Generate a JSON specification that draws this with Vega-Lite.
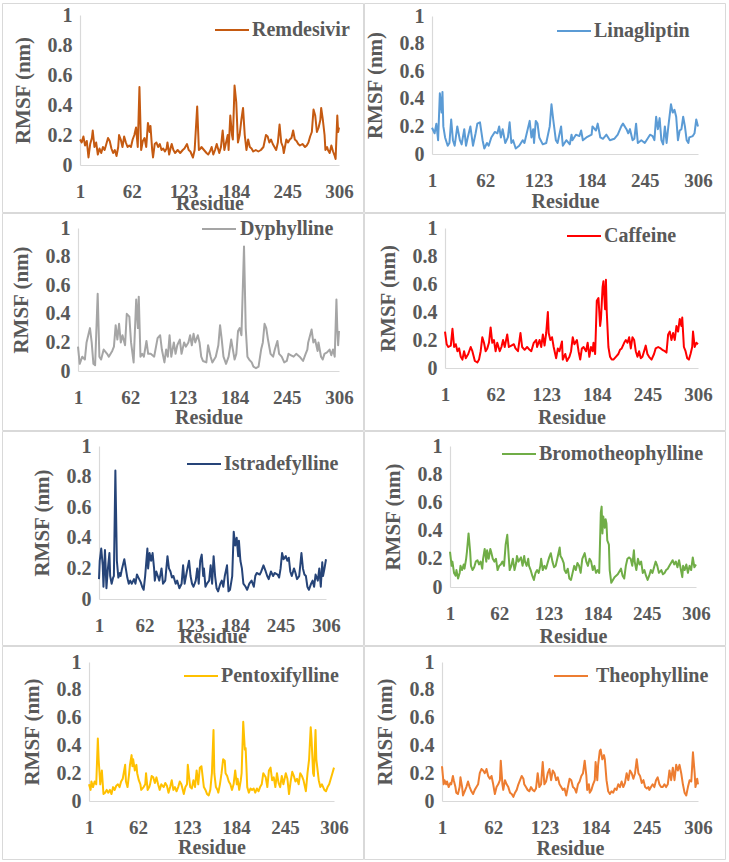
{
"$schema":"https://vega.github.io/schema/vega-lite/v6.json",
"background":"white",
"padding":{"left":1,"top":2,"right":0,"bottom":0},
"autosize":{"type":"pad"},
"bounds":"flush",
"spacing":1,
"columns":2,
"config":{
"view":{"stroke":"#d9d9d9","strokeWidth":1},
"axis":{"grid":false,"ticks":false,"tickSize":0,"domainColor":"#d9d9d9","domainWidth":1.2,"labelFont":"Liberation Serif","labelFontWeight":"bold","labelColor":"#595959","titleFont":"Liberation Serif","titleFontWeight":"bold","titleColor":"#595959","labelFlush":false,"labelOverlap":false,"labelBound":false},
"axisX":{"labelPadding":17,"titleBaseline":"middle","labelFontSize":19,"titleFontSize":20},
"axisY":{"labelPadding":8,"titleBaseline":"middle","titleAlign":"center","titleAngle":-90,"labelFontSize":20,"titleFontSize":21},
"legend":{"orient":"none","title":null,"symbolType":"stroke","symbolSize":1156,"symbolStrokeWidth":2.5,"labelFont":"Liberation Serif","labelFontWeight":"bold","labelFontSize":20,"labelColor":"#595959","labelOffset":2,"labelLimit":0,"padding":0},
"line":{"strokeWidth":2,"strokeJoin":"round"}
},
"resolve":{"scale":{"x":"independent","y":"independent","color":"independent"},"legend":{"color":"independent"}},
"datasets":{
"rem":[{"x":1,"y":0.17},{"x":3,"y":0.15},{"x":5,"y":0.19},{"x":7,"y":0.13},{"x":9,"y":0.16},{"x":11,"y":0.05},{"x":13,"y":0.14},{"x":15,"y":0.18},{"x":16,"y":0.23},{"x":18,"y":0.12},{"x":20,"y":0.15},{"x":22,"y":0.07},{"x":24,"y":0.11},{"x":26,"y":0.08},{"x":28,"y":0.12},{"x":30,"y":0.1},{"x":32,"y":0.14},{"x":34,"y":0.18},{"x":36,"y":0.16},{"x":38,"y":0.11},{"x":40,"y":0.08},{"x":42,"y":0.1},{"x":44,"y":0.06},{"x":46,"y":0.12},{"x":47,"y":0.2},{"x":49,"y":0.17},{"x":51,"y":0.12},{"x":53,"y":0.19},{"x":55,"y":0.15},{"x":57,"y":0.12},{"x":59,"y":0.13},{"x":61,"y":0.12},{"x":63,"y":0.17},{"x":65,"y":0.2},{"x":67,"y":0.25},{"x":69,"y":0.12},{"x":71,"y":0.52},{"x":73,"y":0.1},{"x":75,"y":0.16},{"x":77,"y":0.18},{"x":79,"y":0.12},{"x":81,"y":0.28},{"x":83,"y":0.22},{"x":84,"y":0.26},{"x":86,"y":0.1},{"x":87,"y":0.05},{"x":89,"y":0.14},{"x":91,"y":0.15},{"x":93,"y":0.12},{"x":95,"y":0.14},{"x":97,"y":0.1},{"x":99,"y":0.11},{"x":101,"y":0.09},{"x":103,"y":0.11},{"x":104,"y":0.15},{"x":106,"y":0.07},{"x":108,"y":0.12},{"x":109,"y":0.14},{"x":111,"y":0.1},{"x":113,"y":0.08},{"x":116,"y":0.1},{"x":119,"y":0.08},{"x":122,"y":0.1},{"x":124,"y":0.11},{"x":127,"y":0.14},{"x":129,"y":0.1},{"x":131,"y":0.09},{"x":134,"y":0.05},{"x":136,"y":0.1},{"x":139,"y":0.39},{"x":141,"y":0.1},{"x":143,"y":0.11},{"x":144,"y":0.12},{"x":147,"y":0.1},{"x":150,"y":0.08},{"x":152,"y":0.07},{"x":154,"y":0.09},{"x":156,"y":0.12},{"x":158,"y":0.07},{"x":160,"y":0.1},{"x":162,"y":0.14},{"x":164,"y":0.1},{"x":165,"y":0.08},{"x":167,"y":0.12},{"x":169,"y":0.23},{"x":171,"y":0.1},{"x":173,"y":0.15},{"x":175,"y":0.2},{"x":176,"y":0.1},{"x":178,"y":0.33},{"x":180,"y":0.2},{"x":181,"y":0.17},{"x":183,"y":0.53},{"x":185,"y":0.42},{"x":187,"y":0.15},{"x":189,"y":0.2},{"x":191,"y":0.3},{"x":193,"y":0.38},{"x":195,"y":0.2},{"x":197,"y":0.1},{"x":199,"y":0.17},{"x":201,"y":0.12},{"x":203,"y":0.11},{"x":205,"y":0.09},{"x":208,"y":0.1},{"x":211,"y":0.09},{"x":214,"y":0.1},{"x":217,"y":0.12},{"x":220,"y":0.2},{"x":222,"y":0.19},{"x":224,"y":0.15},{"x":226,"y":0.17},{"x":228,"y":0.14},{"x":230,"y":0.12},{"x":232,"y":0.1},{"x":234,"y":0.15},{"x":236,"y":0.27},{"x":238,"y":0.15},{"x":240,"y":0.12},{"x":241,"y":0.08},{"x":243,"y":0.14},{"x":244,"y":0.17},{"x":246,"y":0.15},{"x":248,"y":0.17},{"x":250,"y":0.18},{"x":252,"y":0.23},{"x":254,"y":0.17},{"x":256,"y":0.16},{"x":258,"y":0.14},{"x":260,"y":0.13},{"x":263,"y":0.14},{"x":266,"y":0.12},{"x":268,"y":0.13},{"x":270,"y":0.15},{"x":272,"y":0.19},{"x":274,"y":0.22},{"x":276,"y":0.37},{"x":278,"y":0.33},{"x":280,"y":0.22},{"x":282,"y":0.25},{"x":284,"y":0.3},{"x":285,"y":0.38},{"x":287,"y":0.3},{"x":289,"y":0.2},{"x":290,"y":0.1},{"x":292,"y":0.12},{"x":293,"y":0.1},{"x":295,"y":0.08},{"x":297,"y":0.13},{"x":299,"y":0.09},{"x":301,"y":0.06},{"x":302,"y":0.04},{"x":304,"y":0.33},{"x":305,"y":0.22},{"x":306,"y":0.25}],
"lin":[{"x":1,"y":0.19},{"x":4,"y":0.15},{"x":6,"y":0.22},{"x":8,"y":0.1},{"x":10,"y":0.44},{"x":12,"y":0.3},{"x":13,"y":0.45},{"x":14,"y":0.2},{"x":16,"y":0.12},{"x":19,"y":0.06},{"x":21,"y":0.08},{"x":23,"y":0.25},{"x":25,"y":0.1},{"x":27,"y":0.06},{"x":30,"y":0.2},{"x":33,"y":0.1},{"x":35,"y":0.07},{"x":38,"y":0.18},{"x":40,"y":0.06},{"x":42,"y":0.12},{"x":45,"y":0.2},{"x":48,"y":0.06},{"x":51,"y":0.15},{"x":53,"y":0.22},{"x":56,"y":0.23},{"x":59,"y":0.1},{"x":61,"y":0.04},{"x":64,"y":0.08},{"x":66,"y":0.06},{"x":69,"y":0.12},{"x":73,"y":0.16},{"x":76,"y":0.15},{"x":78,"y":0.2},{"x":80,"y":0.12},{"x":82,"y":0.18},{"x":85,"y":0.08},{"x":88,"y":0.12},{"x":90,"y":0.23},{"x":92,"y":0.08},{"x":94,"y":0.1},{"x":97,"y":0.04},{"x":101,"y":0.06},{"x":105,"y":0.1},{"x":107,"y":0.08},{"x":113,"y":0.24},{"x":115,"y":0.12},{"x":117,"y":0.18},{"x":118,"y":0.08},{"x":120,"y":0.24},{"x":122,"y":0.22},{"x":124,"y":0.12},{"x":128,"y":0.07},{"x":132,"y":0.08},{"x":136,"y":0.2},{"x":138,"y":0.36},{"x":140,"y":0.25},{"x":143,"y":0.1},{"x":145,"y":0.08},{"x":149,"y":0.2},{"x":151,"y":0.06},{"x":155,"y":0.1},{"x":159,"y":0.07},{"x":161,"y":0.14},{"x":162,"y":0.1},{"x":166,"y":0.14},{"x":170,"y":0.13},{"x":172,"y":0.17},{"x":174,"y":0.1},{"x":178,"y":0.12},{"x":184,"y":0.14},{"x":185,"y":0.2},{"x":189,"y":0.17},{"x":191,"y":0.22},{"x":194,"y":0.12},{"x":197,"y":0.11},{"x":201,"y":0.14},{"x":205,"y":0.1},{"x":210,"y":0.11},{"x":214,"y":0.14},{"x":218,"y":0.2},{"x":220,"y":0.22},{"x":224,"y":0.18},{"x":226,"y":0.15},{"x":228,"y":0.18},{"x":231,"y":0.1},{"x":233,"y":0.11},{"x":235,"y":0.22},{"x":237,"y":0.08},{"x":241,"y":0.1},{"x":245,"y":0.08},{"x":249,"y":0.12},{"x":251,"y":0.14},{"x":254,"y":0.13},{"x":256,"y":0.1},{"x":258,"y":0.27},{"x":260,"y":0.18},{"x":262,"y":0.26},{"x":264,"y":0.1},{"x":266,"y":0.07},{"x":268,"y":0.2},{"x":270,"y":0.08},{"x":272,"y":0.2},{"x":275,"y":0.36},{"x":277,"y":0.3},{"x":279,"y":0.32},{"x":281,"y":0.27},{"x":283,"y":0.1},{"x":285,"y":0.17},{"x":287,"y":0.18},{"x":289,"y":0.27},{"x":291,"y":0.2},{"x":293,"y":0.1},{"x":295,"y":0.08},{"x":296,"y":0.12},{"x":300,"y":0.13},{"x":302,"y":0.15},{"x":304,"y":0.25},{"x":306,"y":0.2}],
"dyp":[{"x":1,"y":0.17},{"x":3,"y":0.05},{"x":6,"y":0.1},{"x":9,"y":0.08},{"x":11,"y":0.2},{"x":13,"y":0.25},{"x":15,"y":0.3},{"x":17,"y":0.2},{"x":19,"y":0.05},{"x":21,"y":0.04},{"x":24,"y":0.54},{"x":26,"y":0.1},{"x":28,"y":0.08},{"x":31,"y":0.15},{"x":35,"y":0.12},{"x":37,"y":0.1},{"x":41,"y":0.14},{"x":43,"y":0.17},{"x":45,"y":0.32},{"x":47,"y":0.22},{"x":49,"y":0.33},{"x":51,"y":0.2},{"x":53,"y":0.25},{"x":56,"y":0.18},{"x":58,"y":0.4},{"x":61,"y":0.38},{"x":63,"y":0.2},{"x":66,"y":0.06},{"x":69,"y":0.5},{"x":71,"y":0.3},{"x":72,"y":0.52},{"x":74,"y":0.1},{"x":76,"y":0.12},{"x":78,"y":0.1},{"x":81,"y":0.21},{"x":83,"y":0.12},{"x":86,"y":0.12},{"x":90,"y":0.1},{"x":94,"y":0.23},{"x":97,"y":0.25},{"x":99,"y":0.15},{"x":102,"y":0.06},{"x":104,"y":0.15},{"x":106,"y":0.1},{"x":108,"y":0.25},{"x":110,"y":0.1},{"x":113,"y":0.2},{"x":115,"y":0.12},{"x":117,"y":0.18},{"x":120,"y":0.22},{"x":122,"y":0.12},{"x":125,"y":0.2},{"x":127,"y":0.17},{"x":130,"y":0.2},{"x":132,"y":0.25},{"x":134,"y":0.18},{"x":136,"y":0.26},{"x":138,"y":0.2},{"x":141,"y":0.25},{"x":143,"y":0.2},{"x":145,"y":0.1},{"x":147,"y":0.07},{"x":151,"y":0.06},{"x":153,"y":0.18},{"x":156,"y":0.1},{"x":158,"y":0.06},{"x":162,"y":0.1},{"x":165,"y":0.18},{"x":167,"y":0.32},{"x":169,"y":0.22},{"x":171,"y":0.1},{"x":174,"y":0.05},{"x":177,"y":0.1},{"x":180,"y":0.22},{"x":182,"y":0.15},{"x":184,"y":0.08},{"x":186,"y":0.12},{"x":188,"y":0.28},{"x":190,"y":0.3},{"x":192,"y":0.25},{"x":195,"y":0.87},{"x":197,"y":0.3},{"x":199,"y":0.1},{"x":201,"y":0.08},{"x":204,"y":0.06},{"x":206,"y":0.03},{"x":209,"y":0.02},{"x":212,"y":0.03},{"x":215,"y":0.15},{"x":217,"y":0.2},{"x":219,"y":0.33},{"x":221,"y":0.3},{"x":223,"y":0.22},{"x":226,"y":0.12},{"x":229,"y":0.1},{"x":231,"y":0.15},{"x":234,"y":0.21},{"x":236,"y":0.12},{"x":239,"y":0.1},{"x":242,"y":0.06},{"x":245,"y":0.07},{"x":247,"y":0.12},{"x":250,"y":0.11},{"x":253,"y":0.1},{"x":256,"y":0.12},{"x":260,"y":0.1},{"x":264,"y":0.07},{"x":267,"y":0.12},{"x":269,"y":0.15},{"x":270,"y":0.2},{"x":274,"y":0.29},{"x":276,"y":0.2},{"x":278,"y":0.22},{"x":281,"y":0.14},{"x":282,"y":0.2},{"x":285,"y":0.1},{"x":287,"y":0.08},{"x":289,"y":0.12},{"x":292,"y":0.13},{"x":295,"y":0.15},{"x":297,"y":0.11},{"x":299,"y":0.15},{"x":301,"y":0.1},{"x":303,"y":0.5},{"x":304,"y":0.3},{"x":305,"y":0.18},{"x":306,"y":0.28}],
"caf":[{"x":1,"y":0.26},{"x":3,"y":0.17},{"x":5,"y":0.15},{"x":8,"y":0.16},{"x":10,"y":0.28},{"x":12,"y":0.15},{"x":14,"y":0.17},{"x":16,"y":0.12},{"x":18,"y":0.14},{"x":20,"y":0.08},{"x":22,"y":0.06},{"x":24,"y":0.12},{"x":26,"y":0.07},{"x":29,"y":0.1},{"x":32,"y":0.15},{"x":34,"y":0.12},{"x":37,"y":0.05},{"x":40,"y":0.04},{"x":42,"y":0.06},{"x":44,"y":0.12},{"x":46,"y":0.22},{"x":48,"y":0.18},{"x":50,"y":0.12},{"x":52,"y":0.14},{"x":54,"y":0.18},{"x":56,"y":0.29},{"x":58,"y":0.18},{"x":60,"y":0.2},{"x":62,"y":0.12},{"x":64,"y":0.18},{"x":67,"y":0.12},{"x":69,"y":0.15},{"x":71,"y":0.2},{"x":73,"y":0.15},{"x":76,"y":0.24},{"x":78,"y":0.15},{"x":81,"y":0.16},{"x":84,"y":0.17},{"x":86,"y":0.14},{"x":89,"y":0.12},{"x":92,"y":0.25},{"x":94,"y":0.15},{"x":97,"y":0.13},{"x":100,"y":0.15},{"x":103,"y":0.13},{"x":105,"y":0.12},{"x":108,"y":0.18},{"x":111,"y":0.2},{"x":112,"y":0.15},{"x":115,"y":0.2},{"x":117,"y":0.15},{"x":119,"y":0.24},{"x":121,"y":0.16},{"x":123,"y":0.25},{"x":125,"y":0.4},{"x":126,"y":0.25},{"x":128,"y":0.2},{"x":130,"y":0.22},{"x":132,"y":0.15},{"x":135,"y":0.07},{"x":137,"y":0.14},{"x":139,"y":0.12},{"x":142,"y":0.19},{"x":143,"y":0.06},{"x":146,"y":0.1},{"x":148,"y":0.05},{"x":151,"y":0.08},{"x":153,"y":0.12},{"x":155,"y":0.22},{"x":157,"y":0.17},{"x":160,"y":0.2},{"x":162,"y":0.12},{"x":164,"y":0.06},{"x":166,"y":0.14},{"x":168,"y":0.15},{"x":171,"y":0.12},{"x":173,"y":0.18},{"x":175,"y":0.08},{"x":177,"y":0.15},{"x":179,"y":0.12},{"x":180,"y":0.18},{"x":182,"y":0.1},{"x":184,"y":0.48},{"x":186,"y":0.5},{"x":188,"y":0.3},{"x":189,"y":0.35},{"x":191,"y":0.58},{"x":192,"y":0.62},{"x":194,"y":0.42},{"x":195,"y":0.63},{"x":196,"y":0.4},{"x":198,"y":0.15},{"x":200,"y":0.08},{"x":202,"y":0.06},{"x":204,"y":0.06},{"x":207,"y":0.08},{"x":210,"y":0.1},{"x":212,"y":0.13},{"x":214,"y":0.14},{"x":217,"y":0.18},{"x":219,"y":0.2},{"x":221,"y":0.18},{"x":223,"y":0.22},{"x":225,"y":0.14},{"x":227,"y":0.22},{"x":229,"y":0.2},{"x":231,"y":0.12},{"x":233,"y":0.08},{"x":235,"y":0.12},{"x":237,"y":0.07},{"x":239,"y":0.08},{"x":241,"y":0.12},{"x":243,"y":0.16},{"x":245,"y":0.1},{"x":247,"y":0.08},{"x":250,"y":0.06},{"x":253,"y":0.1},{"x":255,"y":0.14},{"x":258,"y":0.15},{"x":261,"y":0.14},{"x":263,"y":0.13},{"x":266,"y":0.12},{"x":268,"y":0.11},{"x":270,"y":0.24},{"x":272,"y":0.26},{"x":274,"y":0.2},{"x":276,"y":0.25},{"x":278,"y":0.2},{"x":280,"y":0.3},{"x":282,"y":0.26},{"x":284,"y":0.35},{"x":286,"y":0.3},{"x":287,"y":0.36},{"x":289,"y":0.15},{"x":291,"y":0.12},{"x":293,"y":0.07},{"x":295,"y":0.06},{"x":297,"y":0.1},{"x":299,"y":0.15},{"x":300,"y":0.26},{"x":302,"y":0.15},{"x":304,"y":0.18},{"x":306,"y":0.17}],
"ist":[{"x":1,"y":0.13},{"x":2,"y":0.25},{"x":4,"y":0.33},{"x":6,"y":0.22},{"x":7,"y":0.08},{"x":9,"y":0.32},{"x":10,"y":0.2},{"x":11,"y":0.07},{"x":13,"y":0.2},{"x":15,"y":0.3},{"x":16,"y":0.15},{"x":18,"y":0.1},{"x":20,"y":0.14},{"x":21,"y":0.15},{"x":23,"y":0.84},{"x":25,"y":0.25},{"x":27,"y":0.14},{"x":29,"y":0.17},{"x":30,"y":0.15},{"x":32,"y":0.2},{"x":35,"y":0.26},{"x":37,"y":0.2},{"x":39,"y":0.14},{"x":41,"y":0.1},{"x":43,"y":0.12},{"x":45,"y":0.1},{"x":48,"y":0.13},{"x":50,"y":0.1},{"x":52,"y":0.16},{"x":54,"y":0.14},{"x":57,"y":0.11},{"x":59,"y":0.08},{"x":61,"y":0.06},{"x":63,"y":0.15},{"x":66,"y":0.33},{"x":67,"y":0.2},{"x":69,"y":0.3},{"x":71,"y":0.25},{"x":73,"y":0.3},{"x":75,"y":0.2},{"x":76,"y":0.12},{"x":78,"y":0.18},{"x":80,"y":0.15},{"x":82,"y":0.12},{"x":85,"y":0.2},{"x":87,"y":0.1},{"x":90,"y":0.12},{"x":93,"y":0.28},{"x":95,"y":0.2},{"x":97,"y":0.18},{"x":99,"y":0.14},{"x":101,"y":0.15},{"x":104,"y":0.1},{"x":106,"y":0.12},{"x":109,"y":0.07},{"x":112,"y":0.1},{"x":114,"y":0.22},{"x":116,"y":0.1},{"x":119,"y":0.18},{"x":122,"y":0.25},{"x":124,"y":0.15},{"x":126,"y":0.1},{"x":128,"y":0.08},{"x":131,"y":0.12},{"x":133,"y":0.2},{"x":135,"y":0.1},{"x":137,"y":0.25},{"x":139,"y":0.29},{"x":141,"y":0.15},{"x":142,"y":0.2},{"x":144,"y":0.08},{"x":146,"y":0.1},{"x":149,"y":0.12},{"x":151,"y":0.22},{"x":153,"y":0.1},{"x":155,"y":0.28},{"x":157,"y":0.15},{"x":159,"y":0.07},{"x":161,"y":0.05},{"x":164,"y":0.1},{"x":166,"y":0.12},{"x":168,"y":0.08},{"x":170,"y":0.15},{"x":173,"y":0.22},{"x":175,"y":0.05},{"x":177,"y":0.06},{"x":180,"y":0.15},{"x":182,"y":0.44},{"x":184,"y":0.35},{"x":186,"y":0.4},{"x":188,"y":0.28},{"x":189,"y":0.38},{"x":191,"y":0.25},{"x":193,"y":0.2},{"x":195,"y":0.1},{"x":198,"y":0.08},{"x":200,"y":0.06},{"x":203,"y":0.1},{"x":206,"y":0.12},{"x":209,"y":0.08},{"x":211,"y":0.15},{"x":213,"y":0.17},{"x":217,"y":0.16},{"x":219,"y":0.18},{"x":222,"y":0.22},{"x":225,"y":0.18},{"x":227,"y":0.15},{"x":229,"y":0.13},{"x":232,"y":0.18},{"x":235,"y":0.15},{"x":237,"y":0.17},{"x":241,"y":0.16},{"x":243,"y":0.14},{"x":245,"y":0.2},{"x":247,"y":0.3},{"x":249,"y":0.26},{"x":252,"y":0.28},{"x":254,"y":0.25},{"x":256,"y":0.27},{"x":258,"y":0.18},{"x":260,"y":0.15},{"x":263,"y":0.2},{"x":265,"y":0.17},{"x":267,"y":0.13},{"x":270,"y":0.15},{"x":272,"y":0.25},{"x":273,"y":0.3},{"x":275,"y":0.2},{"x":277,"y":0.16},{"x":279,"y":0.15},{"x":281,"y":0.08},{"x":283,"y":0.06},{"x":286,"y":0.1},{"x":288,"y":0.12},{"x":290,"y":0.08},{"x":292,"y":0.16},{"x":295,"y":0.12},{"x":297,"y":0.2},{"x":299,"y":0.08},{"x":301,"y":0.24},{"x":302,"y":0.15},{"x":304,"y":0.2},{"x":306,"y":0.26}],
"bro":[{"x":1,"y":0.25},{"x":3,"y":0.15},{"x":4,"y":0.18},{"x":6,"y":0.1},{"x":8,"y":0.08},{"x":9,"y":0.12},{"x":11,"y":0.06},{"x":13,"y":0.1},{"x":14,"y":0.15},{"x":16,"y":0.12},{"x":18,"y":0.16},{"x":19,"y":0.13},{"x":21,"y":0.2},{"x":22,"y":0.25},{"x":24,"y":0.38},{"x":26,"y":0.25},{"x":27,"y":0.15},{"x":29,"y":0.12},{"x":31,"y":0.14},{"x":33,"y":0.18},{"x":35,"y":0.19},{"x":37,"y":0.16},{"x":39,"y":0.18},{"x":41,"y":0.13},{"x":42,"y":0.2},{"x":44,"y":0.27},{"x":46,"y":0.18},{"x":47,"y":0.26},{"x":49,"y":0.2},{"x":51,"y":0.27},{"x":52,"y":0.25},{"x":54,"y":0.2},{"x":56,"y":0.18},{"x":58,"y":0.2},{"x":60,"y":0.12},{"x":62,"y":0.15},{"x":64,"y":0.16},{"x":66,"y":0.18},{"x":68,"y":0.15},{"x":70,"y":0.3},{"x":72,"y":0.37},{"x":74,"y":0.2},{"x":75,"y":0.12},{"x":77,"y":0.15},{"x":79,"y":0.2},{"x":81,"y":0.12},{"x":83,"y":0.17},{"x":84,"y":0.22},{"x":86,"y":0.18},{"x":88,"y":0.2},{"x":89,"y":0.21},{"x":91,"y":0.15},{"x":93,"y":0.22},{"x":94,"y":0.18},{"x":96,"y":0.15},{"x":98,"y":0.2},{"x":99,"y":0.15},{"x":101,"y":0.12},{"x":103,"y":0.08},{"x":105,"y":0.05},{"x":107,"y":0.1},{"x":109,"y":0.12},{"x":111,"y":0.1},{"x":113,"y":0.15},{"x":114,"y":0.2},{"x":116,"y":0.12},{"x":118,"y":0.15},{"x":120,"y":0.13},{"x":122,"y":0.17},{"x":124,"y":0.21},{"x":126,"y":0.24},{"x":128,"y":0.18},{"x":130,"y":0.14},{"x":132,"y":0.15},{"x":134,"y":0.2},{"x":137,"y":0.28},{"x":138,"y":0.22},{"x":140,"y":0.2},{"x":142,"y":0.17},{"x":143,"y":0.12},{"x":145,"y":0.1},{"x":147,"y":0.13},{"x":149,"y":0.06},{"x":151,"y":0.05},{"x":153,"y":0.1},{"x":155,"y":0.15},{"x":157,"y":0.12},{"x":159,"y":0.17},{"x":161,"y":0.15},{"x":163,"y":0.1},{"x":165,"y":0.2},{"x":168,"y":0.24},{"x":170,"y":0.18},{"x":172,"y":0.15},{"x":174,"y":0.2},{"x":176,"y":0.18},{"x":178,"y":0.12},{"x":180,"y":0.15},{"x":182,"y":0.1},{"x":184,"y":0.12},{"x":186,"y":0.1},{"x":188,"y":0.53},{"x":189,"y":0.57},{"x":190,"y":0.38},{"x":191,"y":0.5},{"x":193,"y":0.42},{"x":194,"y":0.48},{"x":195,"y":0.45},{"x":196,"y":0.33},{"x":198,"y":0.3},{"x":199,"y":0.12},{"x":201,"y":0.03},{"x":203,"y":0.05},{"x":205,"y":0.07},{"x":207,"y":0.08},{"x":209,"y":0.09},{"x":211,"y":0.11},{"x":213,"y":0.13},{"x":215,"y":0.08},{"x":217,"y":0.06},{"x":219,"y":0.15},{"x":221,"y":0.2},{"x":223,"y":0.21},{"x":225,"y":0.2},{"x":227,"y":0.15},{"x":229,"y":0.26},{"x":230,"y":0.18},{"x":232,"y":0.12},{"x":234,"y":0.2},{"x":236,"y":0.16},{"x":238,"y":0.18},{"x":240,"y":0.1},{"x":242,"y":0.12},{"x":244,"y":0.08},{"x":246,"y":0.05},{"x":248,"y":0.08},{"x":250,"y":0.12},{"x":252,"y":0.1},{"x":254,"y":0.14},{"x":256,"y":0.18},{"x":258,"y":0.15},{"x":260,"y":0.1},{"x":263,"y":0.12},{"x":265,"y":0.09},{"x":267,"y":0.1},{"x":269,"y":0.12},{"x":271,"y":0.13},{"x":273,"y":0.15},{"x":275,"y":0.17},{"x":277,"y":0.19},{"x":279,"y":0.16},{"x":281,"y":0.18},{"x":283,"y":0.14},{"x":285,"y":0.19},{"x":287,"y":0.13},{"x":289,"y":0.07},{"x":290,"y":0.15},{"x":292,"y":0.12},{"x":294,"y":0.16},{"x":296,"y":0.1},{"x":298,"y":0.15},{"x":300,"y":0.12},{"x":302,"y":0.21},{"x":304,"y":0.14},{"x":306,"y":0.16}],
"pen":[{"x":1,"y":0.12},{"x":3,"y":0.08},{"x":4,"y":0.14},{"x":6,"y":0.1},{"x":8,"y":0.14},{"x":10,"y":0.12},{"x":12,"y":0.45},{"x":13,"y":0.3},{"x":15,"y":0.12},{"x":17,"y":0.22},{"x":19,"y":0.05},{"x":21,"y":0.06},{"x":23,"y":0.08},{"x":25,"y":0.06},{"x":27,"y":0.08},{"x":29,"y":0.05},{"x":31,"y":0.1},{"x":33,"y":0.08},{"x":35,"y":0.11},{"x":37,"y":0.12},{"x":39,"y":0.1},{"x":41,"y":0.14},{"x":43,"y":0.16},{"x":46,"y":0.26},{"x":47,"y":0.14},{"x":49,"y":0.1},{"x":51,"y":0.2},{"x":52,"y":0.26},{"x":54,"y":0.33},{"x":55,"y":0.25},{"x":56,"y":0.3},{"x":58,"y":0.22},{"x":60,"y":0.26},{"x":61,"y":0.2},{"x":63,"y":0.15},{"x":65,"y":0.12},{"x":66,"y":0.08},{"x":69,"y":0.1},{"x":71,"y":0.12},{"x":72,"y":0.2},{"x":74,"y":0.08},{"x":76,"y":0.1},{"x":77,"y":0.12},{"x":79,"y":0.18},{"x":81,"y":0.17},{"x":83,"y":0.13},{"x":85,"y":0.17},{"x":87,"y":0.12},{"x":89,"y":0.08},{"x":91,"y":0.12},{"x":94,"y":0.1},{"x":96,"y":0.13},{"x":98,"y":0.11},{"x":100,"y":0.06},{"x":102,"y":0.1},{"x":104,"y":0.15},{"x":106,"y":0.08},{"x":108,"y":0.1},{"x":110,"y":0.07},{"x":112,"y":0.1},{"x":114,"y":0.14},{"x":116,"y":0.12},{"x":119,"y":0.05},{"x":121,"y":0.1},{"x":123,"y":0.12},{"x":124,"y":0.26},{"x":126,"y":0.15},{"x":127,"y":0.1},{"x":129,"y":0.09},{"x":131,"y":0.15},{"x":133,"y":0.1},{"x":135,"y":0.22},{"x":137,"y":0.12},{"x":139,"y":0.24},{"x":141,"y":0.25},{"x":144,"y":0.1},{"x":146,"y":0.08},{"x":148,"y":0.05},{"x":150,"y":0.04},{"x":152,"y":0.08},{"x":154,"y":0.2},{"x":156,"y":0.51},{"x":157,"y":0.2},{"x":159,"y":0.1},{"x":161,"y":0.08},{"x":162,"y":0.06},{"x":164,"y":0.12},{"x":166,"y":0.2},{"x":168,"y":0.3},{"x":170,"y":0.29},{"x":171,"y":0.2},{"x":173,"y":0.18},{"x":175,"y":0.14},{"x":177,"y":0.12},{"x":179,"y":0.08},{"x":181,"y":0.12},{"x":183,"y":0.22},{"x":185,"y":0.12},{"x":186,"y":0.16},{"x":188,"y":0.08},{"x":190,"y":0.15},{"x":191,"y":0.2},{"x":193,"y":0.57},{"x":195,"y":0.37},{"x":196,"y":0.38},{"x":198,"y":0.1},{"x":200,"y":0.06},{"x":202,"y":0.09},{"x":204,"y":0.08},{"x":206,"y":0.09},{"x":208,"y":0.06},{"x":210,"y":0.09},{"x":212,"y":0.07},{"x":214,"y":0.1},{"x":216,"y":0.12},{"x":218,"y":0.2},{"x":221,"y":0.17},{"x":223,"y":0.1},{"x":225,"y":0.22},{"x":227,"y":0.24},{"x":229,"y":0.15},{"x":231,"y":0.17},{"x":233,"y":0.1},{"x":235,"y":0.2},{"x":237,"y":0.13},{"x":239,"y":0.1},{"x":241,"y":0.18},{"x":243,"y":0.12},{"x":246,"y":0.2},{"x":248,"y":0.16},{"x":250,"y":0.05},{"x":252,"y":0.14},{"x":254,"y":0.21},{"x":256,"y":0.18},{"x":258,"y":0.14},{"x":260,"y":0.16},{"x":262,"y":0.12},{"x":264,"y":0.2},{"x":266,"y":0.18},{"x":268,"y":0.15},{"x":271,"y":0.07},{"x":273,"y":0.2},{"x":275,"y":0.3},{"x":277,"y":0.53},{"x":278,"y":0.45},{"x":280,"y":0.2},{"x":281,"y":0.18},{"x":283,"y":0.51},{"x":284,"y":0.3},{"x":286,"y":0.2},{"x":287,"y":0.15},{"x":289,"y":0.1},{"x":291,"y":0.12},{"x":294,"y":0.08},{"x":296,"y":0.07},{"x":298,"y":0.1},{"x":300,"y":0.12},{"x":302,"y":0.16},{"x":304,"y":0.2},{"x":306,"y":0.24}],
"the":[{"x":1,"y":0.25},{"x":3,"y":0.12},{"x":4,"y":0.15},{"x":6,"y":0.12},{"x":7,"y":0.14},{"x":9,"y":0.1},{"x":11,"y":0.13},{"x":12,"y":0.12},{"x":14,"y":0.18},{"x":15,"y":0.15},{"x":17,"y":0.1},{"x":18,"y":0.06},{"x":20,"y":0.05},{"x":22,"y":0.1},{"x":23,"y":0.17},{"x":25,"y":0.1},{"x":26,"y":0.04},{"x":28,"y":0.07},{"x":30,"y":0.1},{"x":32,"y":0.14},{"x":34,"y":0.1},{"x":36,"y":0.07},{"x":38,"y":0.05},{"x":40,"y":0.08},{"x":42,"y":0.1},{"x":44,"y":0.12},{"x":46,"y":0.2},{"x":48,"y":0.23},{"x":50,"y":0.22},{"x":52,"y":0.2},{"x":54,"y":0.23},{"x":56,"y":0.18},{"x":58,"y":0.16},{"x":60,"y":0.18},{"x":62,"y":0.12},{"x":64,"y":0.05},{"x":66,"y":0.1},{"x":68,"y":0.12},{"x":70,"y":0.15},{"x":71,"y":0.29},{"x":73,"y":0.12},{"x":74,"y":0.08},{"x":76,"y":0.15},{"x":78,"y":0.12},{"x":80,"y":0.1},{"x":82,"y":0.06},{"x":84,"y":0.05},{"x":86,"y":0.03},{"x":88,"y":0.06},{"x":90,"y":0.08},{"x":92,"y":0.12},{"x":94,"y":0.15},{"x":96,"y":0.18},{"x":98,"y":0.16},{"x":99,"y":0.12},{"x":101,"y":0.1},{"x":103,"y":0.08},{"x":105,"y":0.07},{"x":107,"y":0.1},{"x":109,"y":0.08},{"x":111,"y":0.07},{"x":113,"y":0.09},{"x":115,"y":0.2},{"x":117,"y":0.1},{"x":119,"y":0.12},{"x":121,"y":0.28},{"x":123,"y":0.12},{"x":125,"y":0.14},{"x":127,"y":0.2},{"x":129,"y":0.23},{"x":131,"y":0.15},{"x":133,"y":0.22},{"x":135,"y":0.2},{"x":137,"y":0.15},{"x":139,"y":0.17},{"x":141,"y":0.12},{"x":143,"y":0.1},{"x":145,"y":0.08},{"x":147,"y":0.09},{"x":149,"y":0.04},{"x":151,"y":0.1},{"x":153,"y":0.16},{"x":155,"y":0.15},{"x":157,"y":0.1},{"x":159,"y":0.09},{"x":161,"y":0.06},{"x":163,"y":0.12},{"x":165,"y":0.14},{"x":167,"y":0.18},{"x":169,"y":0.2},{"x":171,"y":0.29},{"x":173,"y":0.18},{"x":174,"y":0.08},{"x":176,"y":0.12},{"x":177,"y":0.06},{"x":179,"y":0.08},{"x":181,"y":0.12},{"x":183,"y":0.15},{"x":184,"y":0.28},{"x":186,"y":0.15},{"x":187,"y":0.26},{"x":189,"y":0.36},{"x":190,"y":0.37},{"x":192,"y":0.3},{"x":194,"y":0.33},{"x":195,"y":0.3},{"x":197,"y":0.15},{"x":199,"y":0.07},{"x":201,"y":0.05},{"x":203,"y":0.07},{"x":205,"y":0.06},{"x":207,"y":0.09},{"x":209,"y":0.08},{"x":211,"y":0.12},{"x":213,"y":0.1},{"x":215,"y":0.14},{"x":217,"y":0.1},{"x":219,"y":0.13},{"x":221,"y":0.2},{"x":223,"y":0.15},{"x":225,"y":0.22},{"x":227,"y":0.2},{"x":229,"y":0.16},{"x":231,"y":0.2},{"x":233,"y":0.3},{"x":235,"y":0.2},{"x":237,"y":0.18},{"x":239,"y":0.13},{"x":241,"y":0.15},{"x":243,"y":0.1},{"x":245,"y":0.09},{"x":247,"y":0.1},{"x":248,"y":0.08},{"x":250,"y":0.1},{"x":252,"y":0.12},{"x":254,"y":0.1},{"x":256,"y":0.15},{"x":258,"y":0.17},{"x":260,"y":0.12},{"x":262,"y":0.1},{"x":264,"y":0.1},{"x":266,"y":0.12},{"x":268,"y":0.1},{"x":270,"y":0.12},{"x":272,"y":0.22},{"x":274,"y":0.15},{"x":276,"y":0.24},{"x":278,"y":0.15},{"x":280,"y":0.26},{"x":282,"y":0.22},{"x":284,"y":0.26},{"x":286,"y":0.2},{"x":288,"y":0.12},{"x":290,"y":0.06},{"x":292,"y":0.04},{"x":294,"y":0.1},{"x":296,"y":0.15},{"x":298,"y":0.14},{"x":300,"y":0.35},{"x":302,"y":0.2},{"x":303,"y":0.1},{"x":305,"y":0.16},{"x":306,"y":0.12}]
},
"concat":[
{"width":361,"height":209,"data":{"name":"rem"},"mark":{"type":"line"},
"encoding":{
"x":{"field":"x","type":"quantitative","scale":{"domain":[1,306],"range":[78,337],"nice":false,"zero":false},"axis":{"values":[1,62,123,184,245,306],"format":"d","offset":-47,"title":"Residue","titleY":38}},
"y":{"field":"y","type":"quantitative","scale":{"domain":[0,1],"range":[162,12],"nice":false},"axis":{"values":[0,0.2,0.4,0.6,0.8,1],"format":"~g","offset":-78,"title":"RMSF (nm)","titleX":-57}},
"color":{"datum":"Remdesivir","scale":{"range":["#c55a11"]},"legend":{"legendX":212,"legendY":9}}}},
{"width":361,"height":209,"data":{"name":"lin"},"mark":{"type":"line"},
"encoding":{
"x":{"field":"x","type":"quantitative","scale":{"domain":[1,306],"range":[68,334],"nice":false,"zero":false},"axis":{"values":[1,62,123,184,245,306],"format":"d","offset":-58,"title":"Residue","titleY":47}},
"y":{"field":"y","type":"quantitative","scale":{"domain":[0,1],"range":[151,13],"nice":false},"axis":{"values":[0,0.2,0.4,0.6,0.8,1],"format":"~g","offset":-68,"title":"RMSF (nm)","titleX":-57}},
"color":{"datum":"Linagliptin","scale":{"range":["#5b9bd5"]},"legend":{"legendX":192,"legendY":10}}}},
{"width":361,"height":217,"data":{"name":"dyp"},"mark":{"type":"line"},
"encoding":{
"x":{"field":"x","type":"quantitative","scale":{"domain":[1,306],"range":[76,337],"nice":false,"zero":false},"axis":{"values":[1,62,123,184,245,306],"format":"d","offset":-59,"title":"Residue","titleY":46}},
"y":{"field":"y","type":"quantitative","scale":{"domain":[0,1],"range":[158,15],"nice":false},"axis":{"values":[0,0.2,0.4,0.6,0.8,1],"format":"~g","offset":-76,"title":"RMSF (nm)","titleX":-57}},
"color":{"datum":"Dyphylline","scale":{"range":["#a5a5a5"]},"legend":{"legendX":199,"legendY":-2,"labelOffset":3}}}},
{"width":361,"height":217,"data":{"name":"caf"},"mark":{"type":"line"},
"encoding":{
"x":{"field":"x","type":"quantitative","scale":{"domain":[1,306],"range":[81,334],"nice":false,"zero":false},"axis":{"values":[1,62,123,184,245,306],"format":"d","offset":-62,"title":"Residue","titleY":49}},
"y":{"field":"y","type":"quantitative","scale":{"domain":[0,1],"range":[155,15],"nice":false},"axis":{"values":[0,0.2,0.4,0.6,0.8,1],"format":"~g","offset":-81,"title":"RMSF (nm)","titleX":-57}},
"color":{"datum":"Caffeine","scale":{"range":["#ff0000"]},"legend":{"legendX":202,"legendY":5}}}},
{"width":361,"height":214,"data":{"name":"ist"},"mark":{"type":"line"},
"encoding":{
"x":{"field":"x","type":"quantitative","scale":{"domain":[1,306],"range":[97,324],"nice":false,"zero":false},"axis":{"values":[1,62,123,184,245,306],"format":"d","offset":-46,"title":"Residue","titleY":37}},
"y":{"field":"y","type":"quantitative","scale":{"domain":[0,1],"range":[168,15],"nice":false},"axis":{"values":[0,0.2,0.4,0.6,0.8,1],"format":"~g","offset":-97,"title":"RMSF (nm)","titleX":-57}},
"color":{"datum":"Istradefylline","scale":{"range":["#264478"]},"legend":{"legendX":184,"legendY":15}}}},
{"width":361,"height":214,"data":{"name":"bro"},"mark":{"type":"line"},
"encoding":{
"x":{"field":"x","type":"quantitative","scale":{"domain":[1,306],"range":[86,332],"nice":false,"zero":false},"axis":{"values":[1,62,123,184,245,306],"format":"d","offset":-58,"title":"Residue","titleY":49}},
"y":{"field":"y","type":"quantitative","scale":{"domain":[0,1],"range":[156,15],"nice":false},"axis":{"values":[0,0.2,0.4,0.6,0.8,1],"format":"~g","offset":-86,"title":"RMSF (nm)","titleX":-57}},
"color":{"datum":"Bromotheophylline","scale":{"range":["#70ad47"]},"legend":{"legendX":137,"legendY":5}}}},
{"width":361,"height":213,"data":{"name":"pen"},"mark":{"type":"line"},
"encoding":{
"x":{"field":"x","type":"quantitative","scale":{"domain":[1,306],"range":[87,332],"nice":false,"zero":false},"axis":{"values":[1,62,123,184,245,306],"format":"d","offset":-58,"title":"Residue","titleY":46}},
"y":{"field":"y","type":"quantitative","scale":{"domain":[0,1],"range":[155,16],"nice":false},"axis":{"values":[0,0.2,0.4,0.6,0.8,1],"format":"~g","offset":-87,"title":"RMSF (nm)","titleX":-57}},
"color":{"datum":"Pentoxifylline","scale":{"range":["#ffc000"]},"legend":{"legendX":181,"legendY":12}}}},
{"width":361,"height":213,"data":{"name":"the"},"mark":{"type":"line"},
"encoding":{
"x":{"field":"x","type":"quantitative","scale":{"domain":[1,306],"range":[78,334],"nice":false,"zero":false},"axis":{"values":[1,62,123,184,245,306],"format":"d","offset":-58,"title":"Residue","titleY":47}},
"y":{"field":"y","type":"quantitative","scale":{"domain":[0,1],"range":[155,16],"nice":false},"axis":{"values":[0,0.2,0.4,0.6,0.8,1],"format":"~g","offset":-78,"title":"RMSF (nm)","titleX":-57}},
"color":{"datum":"Theophylline","scale":{"range":["#ed7d31"]},"legend":{"legendX":189,"legendY":12,"labelOffset":7}}}}
]
}
